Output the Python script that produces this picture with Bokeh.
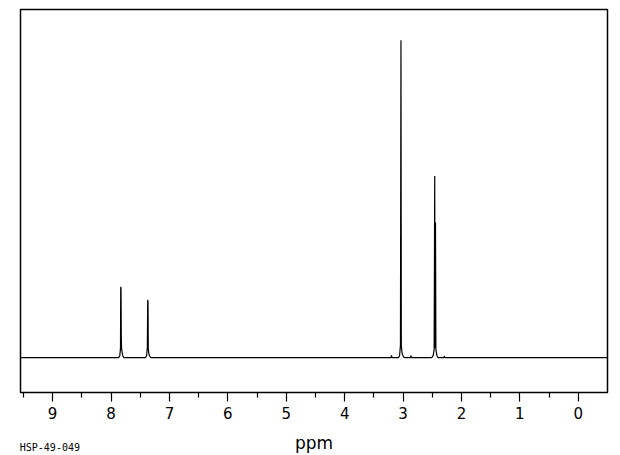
from bokeh.plotting import figure
from bokeh.models import LinearAxis, FixedTicker, Range1d
from bokeh.embed import file_html
from bokeh.resources import INLINE

# Spectrum trace (chemical shift in ppm, relative intensity)
ppm = [9.55, 7.87, 7.85, 7.838, 7.834, 7.829, 7.824, 7.818, 7.80, 7.78,
       7.41, 7.39, 7.378, 7.372, 7.367, 7.362, 7.355, 7.34, 7.32,
       3.23, 3.205, 3.198, 3.19, 3.08, 3.06, 3.045, 3.036, 3.030, 3.018, 3.00, 2.98,
       2.875, 2.865, 2.858, 2.85,
       2.51, 2.485, 2.468, 2.458, 2.453, 2.449, 2.445, 2.438, 2.42, 2.40,
       2.30, 2.292, 2.286, 2.28, -0.5]
intensity = [0, 0, 0.6, 3.0, 22.3, 21.6, 5.7, 2.5, 0.6, 0,
             0, 0.6, 3.5, 18.2, 17.6, 3.0, 1.5, 0.5, 0,
             0, 0, 0.7, 0, 0, 0.6, 3.8, 100, 3.8, 1.5, 0.5, 0,
             0, 0.6, 0, 0,
             0, 0.6, 2.5, 57.2, 3.0, 42.5, 42.5, 2.5, 0.6, 0,
             0, 0.5, 0, 0, 0]

major_ticks = [0, 1, 2, 3, 4, 5, 6, 7, 8, 9]
minor_ticks = [0.5, 1.5, 2.5, 3.5, 4.5, 5.5, 6.5, 7.5, 8.5, 9.5]
x_label = "ppm"
sample_id = "HSP-49-049"
sample_id_pos = 9.047
x_start, x_end = 9.55, -0.5

p = figure(width=620, height=455, output_backend="svg", toolbar_location=None,
           x_range=Range1d(x_start, x_end), y_range=Range1d(-11.0, 109.7),
           min_border_left=20, min_border_right=13, min_border_top=9,
           min_border_bottom=62)

p.line(ppm, intensity, line_color="black", line_width=1.2)

p.yaxis.visible = False
p.xgrid.visible = False
p.ygrid.visible = False
p.outline_line_color = "black"
p.outline_line_width = 1.5
p.background_fill_color = "white"
p.border_fill_color = "white"

ax = p.xaxis[0]
ax.ticker = FixedTicker(ticks=major_ticks, minor_ticks=minor_ticks)
ax.axis_line_color = None
ax.major_tick_out = 9
ax.major_tick_in = 0
ax.minor_tick_out = 5
ax.minor_tick_in = 0
ax.major_tick_line_color = "black"
ax.minor_tick_line_color = "black"
ax.major_tick_line_width = 1.2
ax.minor_tick_line_width = 1.2
ax.major_label_text_font = "DejaVu Sans"
ax.major_label_text_font_size = "15px"
ax.major_label_text_color = "black"
ax.major_label_standoff = 5

# second axis row carrying the sample id (left) and the axis title (centre)
ax2 = LinearAxis(ticker=FixedTicker(ticks=[sample_id_pos], minor_ticks=[]),
                 major_label_overrides={sample_id_pos: sample_id})
ax2.axis_line_color = None
ax2.major_tick_line_color = None
ax2.minor_tick_line_color = None
ax2.major_tick_out = 0
ax2.major_tick_in = 0
ax2.major_label_standoff = 20
ax2.major_label_text_font = "DejaVu Sans Mono"
ax2.major_label_text_font_size = "10px"
ax2.major_label_text_color = "black"
ax2.axis_label = x_label
ax2.axis_label_text_font = "DejaVu Sans"
ax2.axis_label_text_font_style = "normal"
ax2.axis_label_text_font_size = "17px"
ax2.axis_label_text_color = "black"
ax2.axis_label_standoff = -23
p.add_layout(ax2, "below")

open("out.html", "w").write(file_html(p, INLINE))
